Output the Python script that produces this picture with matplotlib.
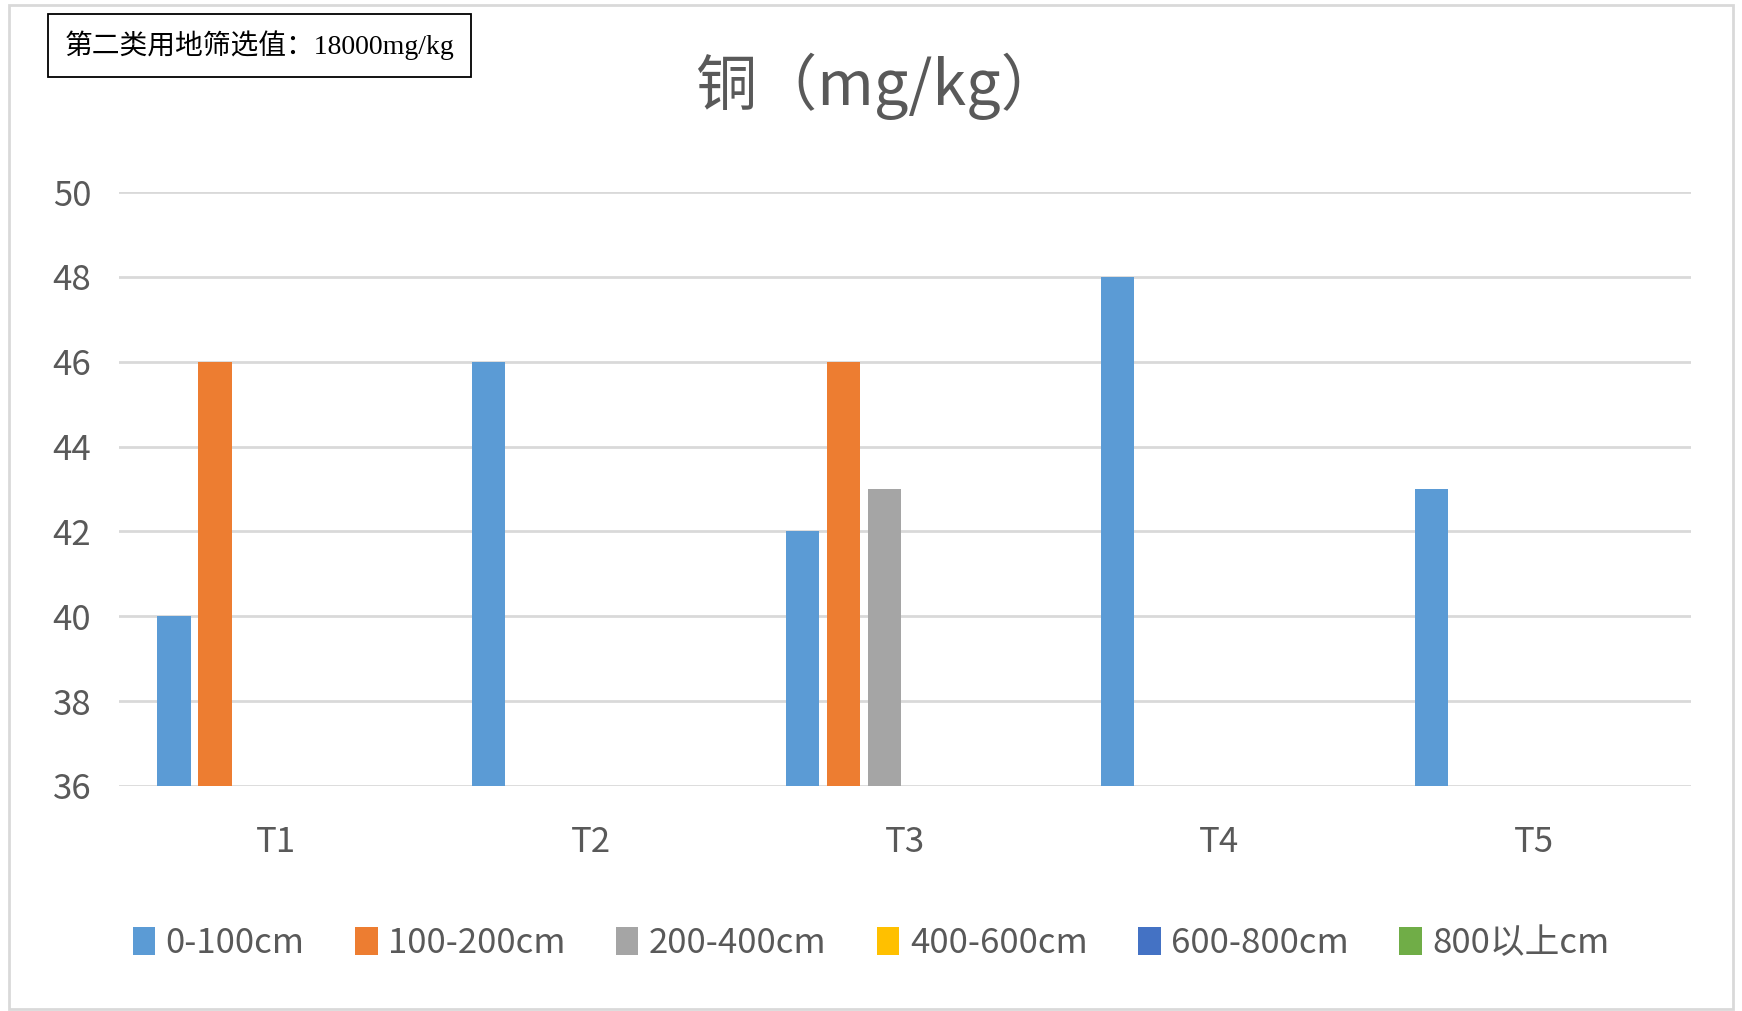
import matplotlib.pyplot as plt
import numpy as np
from matplotlib.patches import Rectangle, Patch

plt.rcParams['font.family'] = ['Noto Sans CJK SC', 'DejaVu Sans']

# 铜含量 (mg/kg)，各点位按深度分组
sites = ['T1', 'T2', 'T3', 'T4', 'T5']
depths = ['0-100cm', '100-200cm', '200-400cm', '400-600cm', '600-800cm', '800以上cm']
v_0_100 = [40, 46, 42, 48, 43]
v_100_200 = [46, np.nan, 46, np.nan, np.nan]
v_200_400 = [np.nan, np.nan, 43, np.nan, np.nan]
v_400_600 = [np.nan] * 5
v_600_800 = [np.nan] * 5
v_800_up = [np.nan] * 5
series = [v_0_100, v_100_200, v_200_400, v_400_600, v_600_800, v_800_up]
colors = ['#5B9BD5', '#ED7D31', '#A5A5A5', '#FFC000', '#4472C4', '#70AD47']
yticks = [36, 38, 40, 42, 44, 46, 48, 50]

fig = plt.figure(figsize=(17.42, 10.11), dpi=100)
ax = fig.add_axes([0.0683, 0.2226, 0.9024, 0.5874])

x = np.arange(len(sites))
step = 0.13
width = 0.106
for i, (vals, c) in enumerate(zip(series, colors)):
    ax.bar(x + (i - 2.5) * step, vals, width, color=c, zorder=3)

ax.set_xlim(-0.5, len(sites) - 0.5)
ax.set_ylim(36, 50)
ax.set_yticks(yticks)
ax.set_xticks(x)
ax.set_xticklabels(sites)
ax.grid(axis='y', color='#d9d9d9', linewidth=2, zorder=0)
ax.tick_params(axis='both', length=0, labelsize=25, colors='#595959')
ax.tick_params(axis='y', pad=20)
ax.tick_params(axis='x', pad=28)
for s in ax.spines.values():
    s.set_visible(False)

fig.text(0.504, 0.915, '铜（mg/kg）', ha='center', va='center',
         fontsize=44, color='#595959')

handles = [Patch(facecolor=c, label=d) for c, d in zip(colors, depths)]
fig.legend(handles=handles, loc='center', bbox_to_anchor=(0.5, 0.067), ncol=6,
           frameon=False, fontsize=25, labelcolor='#595959',
           handlelength=0.65, handleheight=0.85, handletextpad=0.3,
           columnspacing=1.45)

# 筛选值标注框
fig.text(0.149, 0.955, '第二类用地筛选值：18000mg/kg', ha='center', va='center',
         fontsize=20, color='black', family=['Liberation Serif', 'Noto Sans CJK SC'],
         bbox=dict(boxstyle='square,pad=0.6', facecolor='white',
                   edgecolor='black', linewidth=1.3))

# 外边框
fig.patches.append(Rectangle((0.005, 0.002), 0.99, 0.993, transform=fig.transFigure,
                             fill=False, edgecolor='#d9d9d9', linewidth=2))

fig.savefig('out.png', dpi=100)
